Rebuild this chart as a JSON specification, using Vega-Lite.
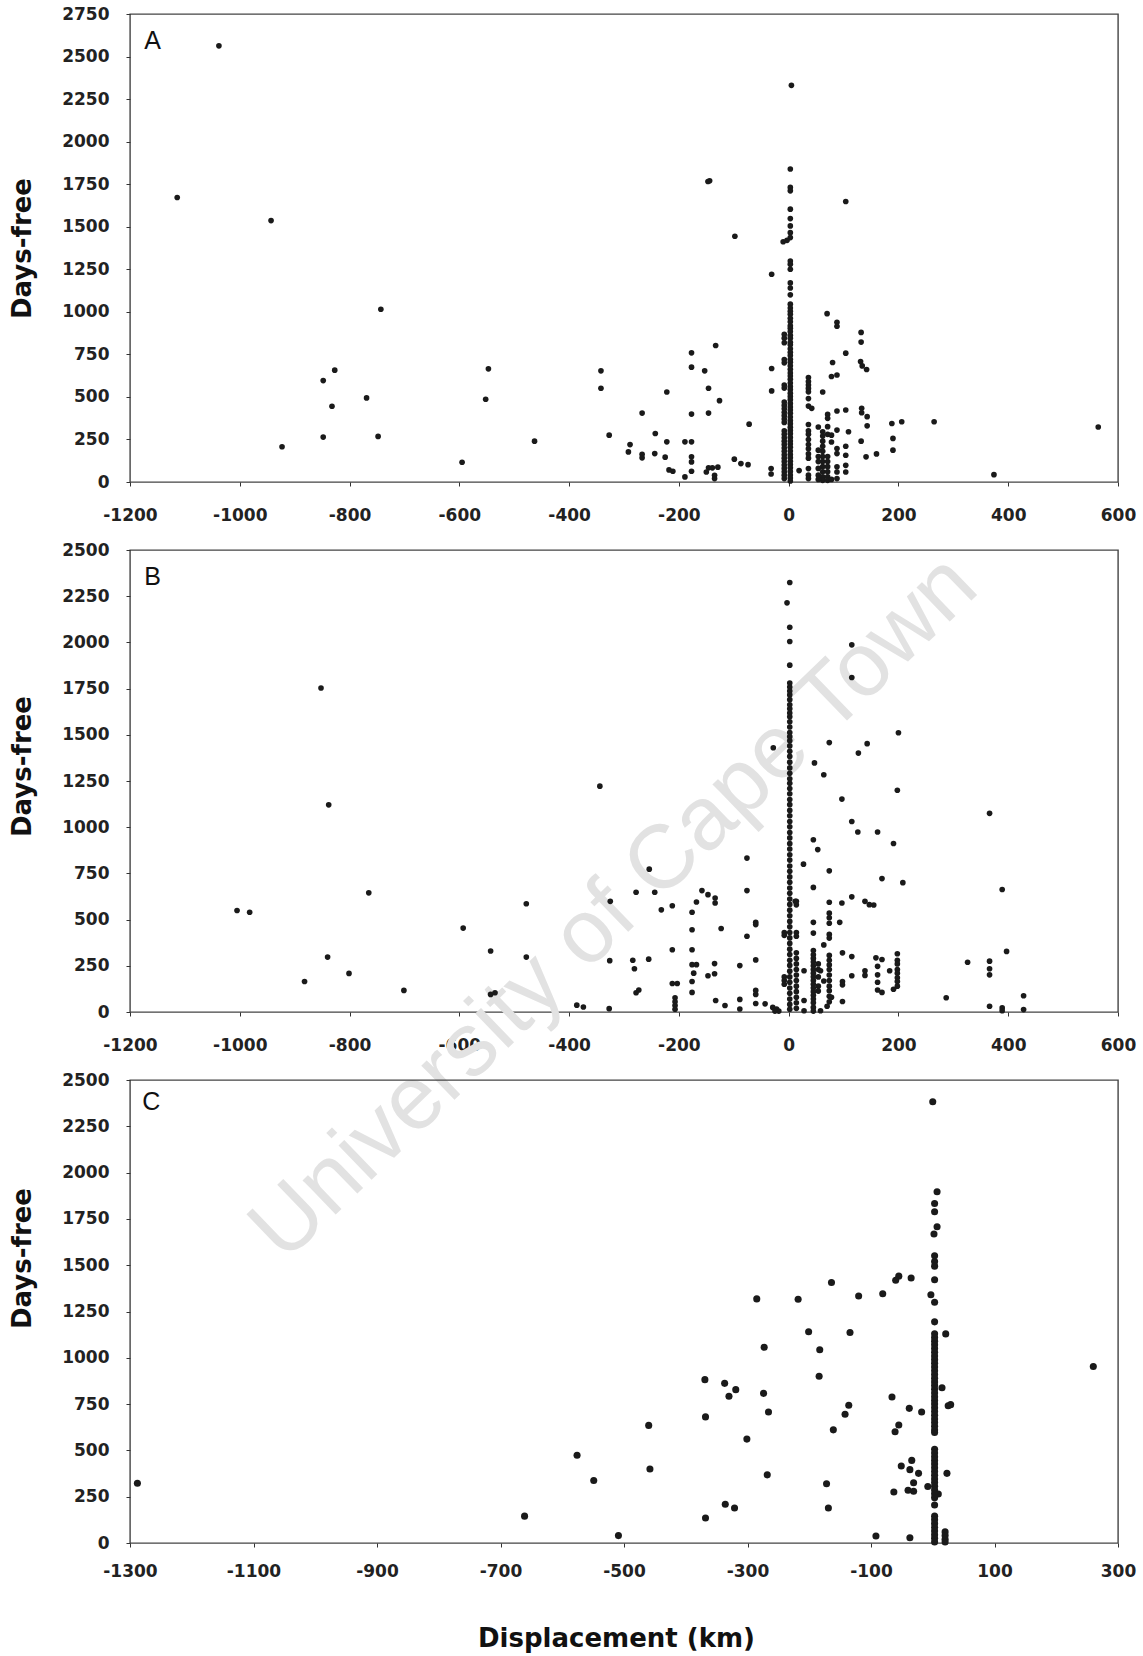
{
  "$schema": "https://vega.github.io/schema/vega-lite/v6.json",
  "background": "white",
  "padding": {"left": 8, "top": 4, "right": 5, "bottom": 5},
  "bounds": "flush",
  "spacing": 68,
  "config": {
    "view": {"stroke": "#444", "strokeWidth": 1.4},
    "axis": {
      "grid": false, "domain": false, "ticks": true, "tickColor": "#333", "tickSize": 4,
      "labelFont": "DejaVu Sans", "labelFontWeight": "bold", "labelFontSize": 17, "labelColor": "#222",
      "labelOverlap": false, "labelFlush": false,
      "titleFont": "DejaVu Sans", "titleFontWeight": "bold", "titleFontSize": 26, "titleColor": "#111"
    }
  },
  "datasets": {
    "A": [
      {"km":-1038,"days":2563},{"km":-1114,"days":1672},{"km":-943,"days":1536},{"km":-743,"days":1015},{"km":-827,"days":657},{"km":-848,"days":596},{"km":-769,"days":494},{"km":-832,"days":445},{"km":-848,"days":264},{"km":-748,"days":268},{"km":-923,"days":207},{"km":-547,"days":665},{"km":-552,"days":486},{"km":-595,"days":116},{"km":-463,"days":240},{"km":-342,"days":653},{"km":-342,"days":551},{"km":-327,"days":275},
      {"km":5,"days":2331},{"km":3,"days":1839},{"km":3,"days":1731},{"km":3,"days":1711},{"km":3,"days":1603},{"km":3,"days":1548},{"km":3,"days":1505},{"km":3,"days":1465},{"km":3,"days":1436},{"km":-3,"days":1420},{"km":-10,"days":1412},
      {"km":-144,"days":1770},{"km":-147,"days":1766},{"km":104,"days":1648},{"km":-98,"days":1444},{"km":-31,"days":1221},
      {"km":3,"days":1298},{"km":3,"days":1280},{"km":3,"days":1250},{"km":3,"days":1170},{"km":3,"days":1140},{"km":3,"days":1100},
      {"km":3,"days":1045},{"km":3,"days":1022},{"km":3,"days":1003},{"km":3,"days":985},{"km":3,"days":962},{"km":3,"days":941},{"km":3,"days":918},{"km":3,"days":903},{"km":3,"days":884},{"km":3,"days":862},{"km":3,"days":845},{"km":3,"days":821},{"km":3,"days":806},{"km":3,"days":783},{"km":3,"days":762},{"km":3,"days":744},{"km":3,"days":721},{"km":3,"days":704},{"km":3,"days":683},{"km":3,"days":662},{"km":3,"days":641},{"km":3,"days":623},{"km":3,"days":604},{"km":3,"days":582},{"km":3,"days":561},{"km":3,"days":543},{"km":3,"days":522},{"km":3,"days":503},{"km":3,"days":484},{"km":3,"days":462},{"km":3,"days":441},{"km":3,"days":423},{"km":3,"days":404},{"km":3,"days":382},{"km":3,"days":361},{"km":3,"days":343},{"km":3,"days":322},{"km":3,"days":303},{"km":3,"days":284},{"km":3,"days":262},{"km":3,"days":241},{"km":3,"days":223},{"km":3,"days":204},{"km":3,"days":182},{"km":3,"days":161},{"km":3,"days":143},{"km":3,"days":122},{"km":3,"days":103},{"km":3,"days":84},{"km":3,"days":62},{"km":3,"days":41},{"km":3,"days":23},{"km":3,"days":6},
      {"km":-8,"days":868},{"km":-8,"days":845},{"km":-8,"days":818},{"km":-8,"days":720},{"km":-8,"days":700},{"km":-8,"days":570},{"km":-8,"days":552},{"km":-8,"days":470},{"km":-8,"days":450},{"km":-8,"days":430},{"km":-8,"days":410},{"km":-8,"days":390},{"km":-8,"days":370},{"km":-8,"days":350},{"km":-8,"days":300},{"km":-8,"days":280},{"km":-8,"days":260},{"km":-8,"days":240},{"km":-8,"days":220},{"km":-8,"days":200},{"km":-8,"days":180},{"km":-8,"days":160},{"km":-8,"days":140},{"km":-8,"days":120},{"km":-8,"days":100},{"km":-8,"days":80},{"km":-8,"days":60},{"km":-8,"days":40},{"km":-8,"days":20},
      {"km":70,"days":989},{"km":88,"days":938},{"km":88,"days":915},{"km":132,"days":879},{"km":132,"days":822},{"km":104,"days":757},{"km":80,"days":702},{"km":131,"days":708},{"km":134,"days":682},{"km":142,"days":661},{"km":78,"days":620},{"km":88,"days":629},
      {"km":-133,"days":802},{"km":-177,"days":759},{"km":-177,"days":675},{"km":-153,"days":653},{"km":-146,"days":551},{"km":-222,"days":529},{"km":-126,"days":478},{"km":-31,"days":667},{"km":-31,"days":535},
      {"km":36,"days":614},{"km":36,"days":590},{"km":36,"days":570},{"km":36,"days":550},{"km":36,"days":530},{"km":36,"days":490},{"km":36,"days":446},{"km":42,"days":433},{"km":62,"days":529},
      {"km":-267,"days":405},{"km":-177,"days":399},{"km":-146,"days":405},{"km":71,"days":397},{"km":71,"days":374},{"km":88,"days":417},{"km":104,"days":423},{"km":133,"days":433},{"km":133,"days":407},{"km":143,"days":384},{"km":143,"days":330},{"km":188,"days":344},{"km":206,"days":354},{"km":265,"days":354},{"km":564,"days":323},{"km":374,"days":43},
      {"km":-72,"days":340},{"km":-243,"days":285},{"km":-222,"days":236},{"km":-289,"days":220},{"km":-292,"days":177},{"km":-267,"days":163},{"km":-267,"days":142},{"km":-244,"days":167},{"km":-225,"days":146},{"km":-189,"days":236},{"km":-177,"days":236},{"km":-177,"days":148},{"km":-177,"days":118},{"km":-177,"days":63},{"km":-189,"days":30},{"km":-218,"days":71},{"km":-211,"days":63},{"km":-146,"days":83},{"km":-150,"days":59},{"km":-139,"days":83},{"km":-129,"days":87},{"km":-135,"days":39},{"km":-135,"days":20},{"km":-99,"days":134},{"km":-87,"days":108},{"km":-74,"days":102},{"km":-32,"days":79},{"km":-32,"days":47},{"km":19,"days":67},
      {"km":36,"days":338},{"km":36,"days":300},{"km":36,"days":280},{"km":36,"days":250},{"km":36,"days":220},{"km":36,"days":195},{"km":36,"days":165},{"km":36,"days":140},{"km":36,"days":79},{"km":36,"days":40},{"km":36,"days":20},
      {"km":54,"days":323},
      {"km":62,"days":295},{"km":62,"days":270},{"km":62,"days":240},{"km":62,"days":210},{"km":62,"days":180},{"km":62,"days":150},{"km":62,"days":120},{"km":62,"days":90},{"km":62,"days":60},{"km":62,"days":30},{"km":62,"days":10},
      {"km":54,"days":187},{"km":54,"days":150},{"km":54,"days":120},{"km":54,"days":80},{"km":54,"days":40},{"km":54,"days":15},
      {"km":71,"days":325},{"km":71,"days":280},{"km":71,"days":150},{"km":71,"days":120},{"km":71,"days":90},{"km":71,"days":60},{"km":71,"days":30},{"km":71,"days":10},
      {"km":78,"days":275},{"km":78,"days":235},{"km":78,"days":15},
      {"km":88,"days":305},{"km":88,"days":197},{"km":88,"days":167},{"km":88,"days":89},{"km":88,"days":59},{"km":88,"days":20},
      {"km":104,"days":210},{"km":104,"days":157},{"km":104,"days":98},{"km":104,"days":59},
      {"km":109,"days":295},{"km":132,"days":240},{"km":141,"days":148},{"km":160,"days":165},{"km":190,"days":256},{"km":190,"days":187}
    ],
    "B": [
      {"km":-852,"days":1753},{"km":-838,"days":1121},{"km":-1005,"days":549},{"km":-982,"days":540},{"km":-765,"days":645},{"km":-840,"days":297},{"km":-801,"days":209},{"km":-882,"days":165},{"km":-701,"days":117},{"km":-593,"days":454},{"km":-543,"days":330},{"km":-543,"days":95},{"km":-535,"days":104},{"km":-478,"days":586},{"km":-478,"days":297},{"km":-386,"days":37},{"km":-344,"days":1222},
      {"km":2,"days":2324},{"km":-3,"days":2214},{"km":2,"days":2082},{"km":2,"days":2005},{"km":2,"days":1877},
      {"km":2,"days":1780},{"km":2,"days":1758},{"km":2,"days":1737},{"km":2,"days":1716},{"km":2,"days":1690},{"km":2,"days":1662},{"km":2,"days":1641},{"km":2,"days":1618},{"km":2,"days":1597},{"km":2,"days":1570},{"km":2,"days":1542},{"km":2,"days":1512},{"km":2,"days":1490},{"km":2,"days":1468},{"km":2,"days":1440},{"km":2,"days":1411},{"km":2,"days":1383},{"km":2,"days":1352},{"km":2,"days":1321},{"km":2,"days":1292},{"km":2,"days":1262},{"km":2,"days":1238},{"km":2,"days":1209},{"km":2,"days":1181},{"km":2,"days":1150},{"km":2,"days":1122},{"km":2,"days":1091},{"km":2,"days":1062},{"km":2,"days":1031},{"km":2,"days":1002},{"km":2,"days":971},{"km":2,"days":942},{"km":2,"days":911},{"km":2,"days":882},{"km":2,"days":851},{"km":2,"days":822},{"km":2,"days":790},{"km":2,"days":761},{"km":2,"days":731},{"km":2,"days":702},{"km":2,"days":671},{"km":2,"days":642},{"km":2,"days":611},{"km":2,"days":582},{"km":2,"days":551},{"km":2,"days":521},{"km":2,"days":490},{"km":2,"days":461},{"km":2,"days":430},{"km":2,"days":401},{"km":2,"days":371},{"km":2,"days":340},{"km":2,"days":311},{"km":2,"days":280},{"km":2,"days":252},{"km":2,"days":221},{"km":2,"days":190},{"km":2,"days":161},{"km":2,"days":130},{"km":2,"days":101},{"km":2,"days":70},{"km":2,"days":41},{"km":2,"days":15},
      {"km":14,"days":599},{"km":14,"days":580},{"km":14,"days":430},{"km":14,"days":410},{"km":14,"days":320},{"km":14,"days":290},{"km":14,"days":260},{"km":14,"days":230},{"km":14,"days":200},{"km":14,"days":170},{"km":14,"days":140},{"km":14,"days":110},{"km":14,"days":80},{"km":14,"days":50},{"km":14,"days":20},
      {"km":-8,"days":430},{"km":-8,"days":415},{"km":-8,"days":190},{"km":-8,"days":170},{"km":-8,"days":150},
      {"km":115,"days":1987},{"km":115,"days":1810},{"km":200,"days":1511},{"km":74,"days":1458},{"km":143,"days":1452},{"km":127,"days":1401},{"km":-28,"days":1430},{"km":47,"days":1348},{"km":64,"days":1284},{"km":198,"days":1200},{"km":97,"days":1152},{"km":366,"days":1075},{"km":115,"days":1031},{"km":126,"days":974},{"km":162,"days":974},{"km":191,"days":912},{"km":45,"days":932},{"km":53,"days":879},{"km":-76,"days":833},{"km":27,"days":800},{"km":74,"days":764},{"km":-254,"days":773},{"km":170,"days":722},{"km":208,"days":700},{"km":389,"days":663},{"km":-278,"days":648},{"km":-244,"days":648},{"km":-76,"days":657},{"km":-158,"days":657},{"km":-147,"days":635},{"km":-134,"days":617},{"km":-134,"days":590},{"km":-168,"days":595},{"km":-325,"days":599},{"km":-212,"days":575},{"km":-232,"days":553},{"km":-176,"days":540},{"km":45,"days":674},{"km":74,"days":594},{"km":97,"days":590},{"km":115,"days":623},{"km":139,"days":599},{"km":147,"days":581},{"km":155,"days":579},{"km":74,"days":535},{"km":74,"days":510},{"km":74,"days":480},{"km":93,"days":485},{"km":-60,"days":485},{"km":-60,"days":473},{"km":-123,"days":452},{"km":45,"days":485},{"km":12,"days":599},{"km":-176,"days":445},{"km":-76,"days":410},{"km":45,"days":427},{"km":74,"days":420},{"km":74,"days":400},{"km":64,"days":363},{"km":-212,"days":337},{"km":-176,"days":337},{"km":98,"days":320},{"km":115,"days":300},{"km":-326,"days":278},{"km":-284,"days":280},{"km":-281,"days":234},{"km":-255,"days":286},{"km":-60,"days":282},{"km":-176,"days":256},{"km":-168,"days":256},{"km":-173,"days":210},{"km":-176,"days":165},{"km":-176,"days":106},{"km":-135,"days":262},{"km":-135,"days":207},{"km":-147,"days":196},{"km":-89,"days":251},{"km":-212,"days":154},{"km":-203,"days":154},{"km":-278,"days":104},{"km":-273,"days":119},{"km":-207,"days":77},{"km":-207,"days":55},{"km":-207,"days":35},{"km":-207,"days":15},{"km":-374,"days":27},{"km":-327,"days":18},{"km":-133,"days":62},{"km":-116,"days":35},{"km":-89,"days":68},{"km":-89,"days":16},{"km":-60,"days":117},{"km":-60,"days":95},{"km":-60,"days":46},{"km":-43,"days":44},{"km":-29,"days":25},{"km":-22,"days":16},{"km":-18,"days":5},{"km":-25,"days":5},
      {"km":45,"days":333},{"km":45,"days":310},{"km":45,"days":290},{"km":45,"days":270},{"km":45,"days":250},{"km":45,"days":230},{"km":45,"days":210},{"km":45,"days":190},{"km":45,"days":170},{"km":45,"days":150},{"km":45,"days":130},{"km":45,"days":110},{"km":45,"days":90},{"km":45,"days":70},{"km":45,"days":50},{"km":45,"days":25},{"km":45,"days":5},
      {"km":54,"days":260},{"km":54,"days":230},{"km":54,"days":190},{"km":54,"days":140},{"km":54,"days":113},{"km":58,"days":223},{"km":64,"days":168},
      {"km":74,"days":306},{"km":74,"days":280},{"km":74,"days":255},{"km":74,"days":230},{"km":74,"days":200},{"km":74,"days":170},{"km":74,"days":140},{"km":74,"days":115},{"km":74,"days":85},{"km":74,"days":55},
      {"km":78,"days":80},{"km":58,"days":7},{"km":70,"days":31},{"km":28,"days":223},{"km":28,"days":62},{"km":28,"days":7},
      {"km":159,"days":293},{"km":170,"days":284},{"km":162,"days":247},{"km":162,"days":201},{"km":162,"days":161},{"km":162,"days":119},{"km":170,"days":106},
      {"km":139,"days":223},{"km":139,"days":198},{"km":115,"days":196},{"km":98,"days":165},{"km":98,"days":147},{"km":98,"days":57},{"km":184,"days":223},
      {"km":198,"days":315},{"km":198,"days":280},{"km":198,"days":260},{"km":198,"days":230},{"km":198,"days":210},{"km":198,"days":185},{"km":198,"days":165},{"km":198,"days":140},
      {"km":191,"days":123},{"km":287,"days":77},{"km":326,"days":269},{"km":366,"days":275},{"km":366,"days":234},{"km":366,"days":201},{"km":366,"days":31},{"km":397,"days":328},{"km":389,"days":22},{"km":389,"days":7},{"km":428,"days":88},{"km":428,"days":13}
    ],
    "C": [
      {"km":-1288,"days":323},{"km":-661,"days":145},{"km":-576,"days":474},{"km":-549,"days":337},{"km":-509,"days":40},{"km":-460,"days":635},{"km":-458,"days":400},{"km":-369,"days":882},{"km":-368,"days":681},{"km":-368,"days":135},{"km":-337,"days":862},{"km":-330,"days":792},{"km":-319,"days":828},{"km":-336,"days":209},{"km":-321,"days":189},{"km":-301,"days":561},{"km":-285,"days":1318},{"km":-273,"days":1057},{"km":-274,"days":808},{"km":-266,"days":707},{"km":-268,"days":368},{"km":-218,"days":1316},{"km":-201,"days":1141},{"km":-183,"days":1043},{"km":-184,"days":900},{"km":-164,"days":1407},{"km":-161,"days":611},{"km":-172,"days":320},{"km":-169,"days":189},{"km":-134,"days":1137},{"km":-120,"days":1334},{"km":-136,"days":744},{"km":-142,"days":695},{"km":-81,"days":1346},{"km":-92,"days":38},{"km":-66,"days":788},{"km":-55,"days":1441},{"km":-60,"days":1419},{"km":-35,"days":1431},{"km":-38,"days":727},{"km":-18,"days":707},{"km":-55,"days":637},{"km":-61,"days":601},{"km":-51,"days":416},{"km":-34,"days":446},{"km":-37,"days":396},{"km":-23,"days":376},{"km":-31,"days":325},{"km":-40,"days":285},{"km":-31,"days":279},{"km":-63,"days":275},{"km":-37,"days":28},
      {"km":21,"days":1129},{"km":15,"days":838},{"km":25,"days":741},{"km":29,"days":747},{"km":23,"days":376},{"km":20,"days":60},{"km":20,"days":40},{"km":20,"days":20},{"km":20,"days":5},{"km":260,"days":953},
      {"km":0,"days":2383},{"km":7,"days":1897},{"km":3,"days":1833},{"km":3,"days":1789},{"km":7,"days":1708},{"km":2,"days":1668},{"km":3,"days":1551},{"km":3,"days":1520},{"km":3,"days":1495},{"km":3,"days":1421},{"km":-3,"days":1340},{"km":3,"days":1300},{"km":3,"days":1194},{"km":-8,"days":305},{"km":9,"days":265},{"km":3,"days":205},
      {"km":3,"days":1130},{"km":3,"days":1110},{"km":3,"days":1090},{"km":3,"days":1070},{"km":3,"days":1050},{"km":3,"days":1030},{"km":3,"days":1010},{"km":3,"days":990},{"km":3,"days":970},{"km":3,"days":950},{"km":3,"days":930},{"km":3,"days":910},{"km":3,"days":890},{"km":3,"days":870},{"km":3,"days":850},{"km":3,"days":830},{"km":3,"days":810},{"km":3,"days":790},{"km":3,"days":770},{"km":3,"days":750},{"km":3,"days":730},{"km":3,"days":710},{"km":3,"days":690},{"km":3,"days":670},{"km":3,"days":650},{"km":3,"days":630},{"km":3,"days":610},{"km":3,"days":597},
      {"km":3,"days":506},{"km":3,"days":486},{"km":3,"days":466},{"km":3,"days":446},{"km":3,"days":426},{"km":3,"days":406},{"km":3,"days":386},{"km":3,"days":366},{"km":3,"days":346},{"km":3,"days":326},{"km":3,"days":306},{"km":3,"days":286},{"km":3,"days":266},{"km":3,"days":245},
      {"km":3,"days":145},{"km":3,"days":125},{"km":3,"days":105},{"km":3,"days":85},{"km":3,"days":65},{"km":3,"days":45},{"km":3,"days":25},{"km":3,"days":5}
    ]
  },
  "vconcat": [
    {
      "width": 988, "height": 468,
      "layer": [
        {
          "data": {"name": "A"},
          "mark": {"type": "circle", "size": 32, "color": "#1a1a1a", "opacity": 1},
          "encoding": {
            "x": {"field": "km", "type": "quantitative", "scale": {"domain": [-1200, 600], "nice": false, "zero": false},
                  "axis": {"values": [-1200,-1000,-800,-600,-400,-200,0,200,400,600], "title": null, "labelPadding": 21, "labelExpr": "'' + datum.value"}},
            "y": {"field": "days", "type": "quantitative", "scale": {"domain": [0, 2750], "nice": false},
                  "axis": {"values": [0,250,500,750,1000,1250,1500,1750,2000,2250,2500,2750], "title": "Days-free", "labelPadding": 17, "labelExpr": "'' + datum.value",
                           "titleX": -108, "titleY": 234, "titleAngle": 270, "titleBaseline": "middle", "titleAlign": "center"}}
          }
        },
        {
          "data": {"values": [{"panel": "A"}]},
          "mark": {"type": "text", "font": "Liberation Sans", "fontSize": 25, "color": "#111", "align": "left", "baseline": "alphabetic"},
          "encoding": {
            "x": {"datum": -1174, "type": "quantitative"},
            "y": {"datum": 2544, "type": "quantitative"},
            "text": {"field": "panel"}
          }
        }
      ]
    },
    {
      "width": 988, "height": 462,
      "layer": [
        {
          "data": {"values": [{"mark": "University of Cape Town"}]},
          "mark": {"type": "text", "font": "Liberation Sans", "fontSize": 90, "color": "#e2e2e2", "angle": 316, "align": "center", "baseline": "middle"},
          "encoding": {
            "x": {"datum": -318, "type": "quantitative"},
            "y": {"datum": 563, "type": "quantitative"},
            "text": {"field": "mark"}
          }
        },
        {
          "data": {"name": "B"},
          "mark": {"type": "circle", "size": 32, "color": "#1a1a1a", "opacity": 1},
          "encoding": {
            "x": {"field": "km", "type": "quantitative", "scale": {"domain": [-1200, 600], "nice": false, "zero": false},
                  "axis": {"values": [-1200,-1000,-800,-600,-400,-200,0,200,400,600], "title": null, "labelPadding": 21, "labelExpr": "'' + datum.value"}},
            "y": {"field": "days", "type": "quantitative", "scale": {"domain": [0, 2500], "nice": false},
                  "axis": {"values": [0,250,500,750,1000,1250,1500,1750,2000,2250,2500], "title": "Days-free", "labelPadding": 17, "labelExpr": "'' + datum.value",
                           "titleX": -108, "titleY": 216, "titleAngle": 270, "titleBaseline": "middle", "titleAlign": "center"}}
          }
        },
        {
          "data": {"values": [{"panel": "B"}]},
          "mark": {"type": "text", "font": "Liberation Sans", "fontSize": 25, "color": "#111", "align": "left", "baseline": "alphabetic"},
          "encoding": {
            "x": {"datum": -1174, "type": "quantitative"},
            "y": {"datum": 2311, "type": "quantitative"},
            "text": {"field": "panel"}
          }
        }
      ]
    },
    {
      "width": 988, "height": 463,
      "layer": [
        {
          "data": {"name": "C"},
          "mark": {"type": "circle", "size": 50, "color": "#1a1a1a", "opacity": 1},
          "encoding": {
            "x": {"field": "km", "type": "quantitative", "scale": {"domain": [-1300, 300], "nice": false, "zero": false},
                  "axis": {"values": [-1300,-1100,-900,-700,-500,-300,-100,100,300], "title": "Displacement (km)", "labelPadding": 16, "labelExpr": "'' + datum.value",
                           "titleX": 486, "titleY": 103, "titleAlign": "center", "titleBaseline": "alphabetic", "titleFontSize": 26}},
            "y": {"field": "days", "type": "quantitative", "scale": {"domain": [0, 2500], "nice": false},
                  "axis": {"values": [0,250,500,750,1000,1250,1500,1750,2000,2250,2500], "title": "Days-free", "labelPadding": 17, "labelExpr": "'' + datum.value",
                           "titleX": -108, "titleY": 178, "titleAngle": 270, "titleBaseline": "middle", "titleAlign": "center"}}
          }
        },
        {
          "data": {"values": [{"panel": "C"}]},
          "mark": {"type": "text", "font": "Liberation Sans", "fontSize": 25, "color": "#111", "align": "left", "baseline": "alphabetic"},
          "encoding": {
            "x": {"datum": -1280, "type": "quantitative"},
            "y": {"datum": 2338, "type": "quantitative"},
            "text": {"field": "panel"}
          }
        }
      ]
    }
  ]
}
